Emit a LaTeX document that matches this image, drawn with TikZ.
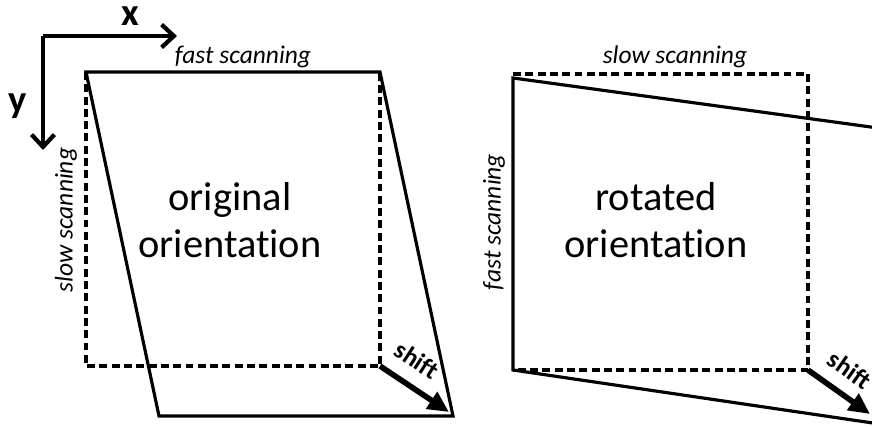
\documentclass[tikz,border=0pt]{standalone}
\usepackage{fontspec}
\setmainfont[Ligatures=NoCommon]{Carlito}
\usetikzlibrary{arrows.meta}
\begin{document}
\begin{tikzpicture}[x=0.02cm,y=-0.02cm,
  solidline/.style={line width=1.8pt, line join=miter},
  dashline/.style={line width=2pt, dash pattern=on 4.5pt off 2.5pt},
  axis/.style={line width=2.4pt, -{Straight Barb[length=7pt,width=13pt,line width=2.4pt]}},
  shiftarrow/.style={line width=3.2pt, -{Triangle[length=12pt,width=11pt]}},
  big/.style={font=\fontsize{23}{26.6}\selectfont, align=center, inner sep=0pt},
  scan/.style={font=\fontsize{14.5}{17}\selectfont\itshape, inner sep=0pt},
  axlabel/.style={font=\fontsize{22}{24}\selectfont\bfseries, inner sep=0pt},
  shiftlabel/.style={font=\fontsize{14.5}{17}\selectfont\bfseries, inner sep=0pt}]
\useasboundingbox (0,0) rectangle (872,426);
\clip (0,0) rectangle (872,426);
% axes
\coordinate (O) at (43,36);
\coordinate (Xend) at (177,36);
\coordinate (Yend) at (43,150);
\draw[axis] (O) -- (Xend);
\draw[axis] (O) -- (Yend);
\node[axlabel] (xl) at (130,16) {x};
\node[axlabel] (yl) at (18,106) {y};
% left figure
\coordinate (LA) at (86,72);
\coordinate (LB) at (380,72);
\coordinate (LC) at (380,366);
\coordinate (LD) at (86,366);
\coordinate (LC2) at (453,416);
\coordinate (LD2) at (159,416);
\draw[dashline] (LA) -- (LD) -- (LC) -- (LB);
\draw[solidline] (LA) -- (LB) -- (LC2) -- (LD2) -- cycle;
\draw[shiftarrow] (LC) -- (449,412);
\node[shiftlabel, rotate=-33] (ls) at (417,360) {shift};
\node[scan] (lfast) at (243,57) {fast scanning};
\node[scan, rotate=90] (lslow) at (66,220) {slow scanning};
\node[big] (lt) at (230,220) {original\\orientation};
% right figure
\coordinate (RA) at (513,74);
\coordinate (RB) at (808,74);
\coordinate (RC) at (808,370);
\coordinate (RD) at (513,370);
\coordinate (RA2) at (513,78);
\coordinate (RB2) at (900,131);
\coordinate (RC2) at (900,427);
\draw[dashline] (RA) -- (RB) -- (RC) -- (RD);
\draw[solidline] (RB2) -- (RA2) -- (RD) -- (RC2);
\draw[shiftarrow] (RC) -- (870,414);
\node[shiftlabel, rotate=-35] (rs) at (850,370) {shift};
\node[scan] (rslow) at (675,57) {slow scanning};
\node[scan, rotate=90] (rfast) at (494,222) {fast scanning};
\node[big] (rt) at (656,220) {rotated\\orientation};
\end{tikzpicture}
\end{document}
